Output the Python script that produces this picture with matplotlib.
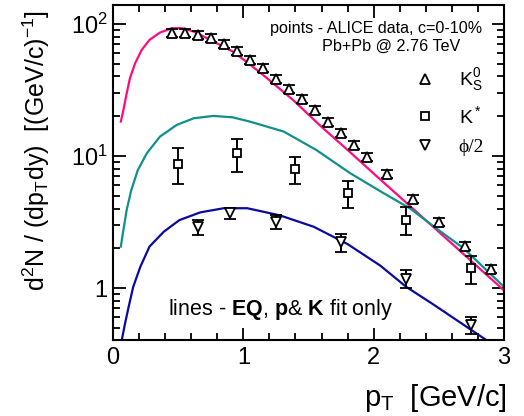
import matplotlib
matplotlib.use("Agg")
import matplotlib.pyplot as plt
from matplotlib.ticker import FixedLocator, MultipleLocator, LogLocator, NullFormatter
from matplotlib.lines import Line2D

plt.rcParams['font.family'] = ['Liberation Sans', 'DejaVu Sans']
plt.rcParams['mathtext.fontset'] = 'custom'
plt.rcParams['mathtext.rm'] = 'Liberation Sans'
plt.rcParams['mathtext.it'] = 'Liberation Sans:italic'
plt.rcParams['mathtext.bf'] = 'Liberation Sans:bold'

# ---- data: ALICE points ----
k0s_pt = [0.45, 0.55, 0.65, 0.75, 0.85, 0.95, 1.05, 1.15, 1.25, 1.35, 1.45, 1.55, 1.65, 1.75,
          1.85, 1.95, 2.1, 2.3, 2.5, 2.7, 2.9]
k0s_y = [85.9, 85.0, 82.5, 78.8, 71.0, 62.4, 53.7, 46.2, 38.5, 32.4, 27.0, 22.3, 18.2, 15.0,
         12.1, 9.9, 7.26, 4.73, 3.15, 2.08, 1.39]
k0s_err = [6.0, 6.0, 5.8, 5.5, 5.0, 4.4, 3.8, 3.2, 2.7, 2.3, 1.9, 1.6, 1.3, 1.05,
           0.85, 0.7, 0.5, 0.33, 0.22, 0.15, 0.1]

kst_pt = [0.5, 0.95, 1.4, 1.8, 2.25, 2.75]
kst_y = [8.75, 10.45, 7.95, 5.28, 3.3, 1.41]
kst_err = [2.65, 2.95, 1.85, 1.23, 0.78, 0.34]

phi_pt = [0.65, 0.9, 1.25, 1.75, 2.25, 2.75]
phi_y = [2.91, 3.68, 3.18, 2.22, 1.18, 0.525]
phi_err = [0.38, 0.33, 0.38, 0.34, 0.18, 0.078]

# ---- model curves (EQ, p & K fit) ----
k0s_line_pt = [0.06, 0.08, 0.105, 0.13, 0.17, 0.22, 0.28, 0.36, 0.45, 0.53, 0.62, 0.72, 0.82,
               0.92, 1.04, 1.2, 1.38, 1.6, 1.8, 2.0, 2.2, 2.4, 2.6, 2.8, 3.0]
k0s_line_y = [18.2, 22.3, 29.8, 38.8, 50.4, 63.5, 75.7, 85.9, 92.7, 92.7, 87.4, 78.0, 69.4,
              61.7, 50.3, 37.5, 26.6, 16.6, 11.1, 7.36, 4.9, 3.26, 2.17, 1.44, 0.96]

kst_line_pt = [0.06, 0.08, 0.105, 0.14, 0.19, 0.26, 0.36, 0.49, 0.62, 0.77, 0.92, 1.05, 1.31,
               1.56, 1.82, 2.08, 2.28, 2.48, 2.69, 3.0]
kst_line_y = [2.06, 2.75, 3.9, 5.5, 7.8, 10.5, 14.0, 17.2, 19.3, 20.1, 19.6, 18.2, 15.3,
              11.1, 7.4, 5.2, 4.0, 2.83, 2.0, 1.02]

phi_line_pt = [0.06, 0.09, 0.12, 0.155, 0.21, 0.28, 0.39, 0.51, 0.67, 0.85, 1.03, 1.28, 1.54,
               1.8, 2.05, 2.25, 2.45, 2.65, 2.87, 2.95]
phi_line_y = [0.37, 0.525, 0.72, 1.02, 1.45, 2.06, 2.67, 3.27, 3.74, 4.02, 4.02, 3.55, 2.91,
              2.15, 1.48, 1.02, 0.76, 0.56, 0.40, 0.35]

x_ticks = [0, 1, 2, 3]
y_ticks = [1, 10, 100]
y_ticklabels = ['1', r'$10^1$', r'$10^2$']

c_k0s = '#ff0a80'
c_kst = '#10908c'
c_phi = '#0a0aa0'

fig = plt.figure(figsize=(5.24, 4.16), dpi=100)
ax = fig.add_axes([113/524, 1-340/416, 391/524, 335/416])

ax.plot(k0s_line_pt, k0s_line_y, color=c_k0s, lw=1.6)
ax.plot(kst_line_pt, kst_line_y, color=c_kst, lw=1.6)
ax.plot(phi_line_pt, phi_line_y, color=c_phi, lw=1.6)

ekw = dict(ls='none', color='black', mfc='white', mec='black', mew=1.3,
           elinewidth=1.4, capsize=4, capthick=1.4)
ax.errorbar(k0s_pt, k0s_y, yerr=k0s_err, marker='^', ms=7, **ekw)
ax.errorbar(kst_pt, kst_y, yerr=kst_err, marker='s', ms=5.5, **ekw)
ax.errorbar(phi_pt, phi_y, yerr=phi_err, marker='v', ms=7, **ekw)

ax.set_xlim(0, 3)
ax.set_yscale('log')
ax.set_ylim(0.404, 139)
ax.xaxis.set_major_locator(FixedLocator(x_ticks))
ax.xaxis.set_minor_locator(MultipleLocator(0.2))
ax.set_xticklabels([str(v) for v in x_ticks])
ax.yaxis.set_major_locator(FixedLocator(y_ticks))
ax.set_yticklabels(y_ticklabels)
ax.yaxis.set_minor_locator(LogLocator(base=10, subs=range(2, 10)))
ax.yaxis.set_minor_formatter(NullFormatter())

for s in ax.spines.values():
    s.set_linewidth(1.5)
ax.tick_params(which='both', direction='in', top=True, right=True, width=1.3,
               labelsize=17)
ax.tick_params(which='major', length=9)
ax.tick_params(which='minor', length=5)
ax.tick_params(axis='x', pad=5)
ax.tick_params(axis='y', pad=4)

ax.set_xlabel(r'p$_\mathrm{T}$  [GeV/c]', fontsize=21, loc='right')
ax.xaxis.set_label_coords(1.008, -0.125)
ax.xaxis.label.set_va('top')
ax.set_ylabel(r'd$^2$N / (dp$_\mathrm{T}$dy)  [(GeV/c)$^{-1}$]', fontsize=18, loc='top')
ax.yaxis.set_label_coords(-0.155, 0.985)

ax.text(0.944, 0.931, 'points - ALICE data, c=0-10%', transform=ax.transAxes,
        ha='right', va='center', fontsize=11.6)
ax.text(0.887, 0.878, 'Pb+Pb @ 2.76 TeV', transform=ax.transAxes,
        ha='right', va='center', fontsize=11.6)
ax.text(0.141, 0.09, r'lines - $\mathbf{EQ}$, $\mathbf{p}$& $\mathbf{K}$ fit only',
        transform=ax.transAxes, ha='left', va='center', fontsize=15.5)

handles = [Line2D([], [], ls='none', marker='^', ms=7, mfc='white', mec='black', mew=1.3),
           Line2D([], [], ls='none', marker='s', ms=5.5, mfc='white', mec='black', mew=1.3),
           Line2D([], [], ls='none', marker='v', ms=7, mfc='white', mec='black', mew=1.3)]
labels = [r'K$^0_\mathrm{S}$', r'K$^*$', '\u03d5/2']
leg = ax.legend(handles, labels, loc='upper left', bbox_to_anchor=(0.74, 0.84),
                frameon=False, fontsize=14, handletextpad=1.0, labelspacing=0.6,
                handlelength=1.5, borderaxespad=0)
leg.get_texts()[2].set_family(['Liberation Serif', 'DejaVu Serif'])

fig.savefig('out.png', dpi=100)
